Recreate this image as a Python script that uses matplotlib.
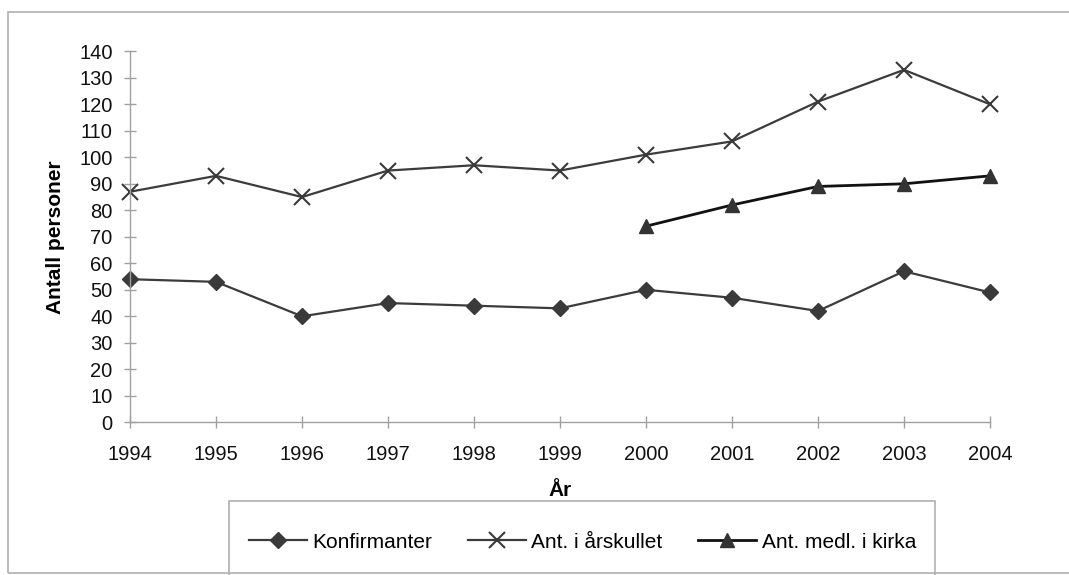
import matplotlib as mpl
import matplotlib.pyplot as plt
from matplotlib.patches import Rectangle

mpl.use('Agg')

aar = [1994, 1995, 1996, 1997, 1998, 1999, 2000, 2001, 2002, 2003, 2004]
konfirmanter = [54, 53, 40, 45, 44, 43, 50, 47, 42, 57, 49]
aarskullet = [87, 93, 85, 95, 97, 95, 101, 106, 121, 133, 120]
kirka_aar = [2000, 2001, 2002, 2003, 2004]
kirka = [74, 82, 89, 90, 93]
yticks = list(range(0, 141, 10))

plt.rcParams['font.family'] = ['Liberation Sans', 'DejaVu Sans']

W, H = 1069, 575
fig = plt.figure(figsize=(W / 100, H / 100), dpi=100)

# outer chart frame (runs off the right edge in the scan)
fig.add_artist(Rectangle((8 / W, 1 - 573 / H), 1.2, (573 - 12) / H,
                         transform=fig.transFigure, fill=False,
                         edgecolor='#b0b0b0', linewidth=1.2))

left, right = 130 / W, 990 / W
top, bottom = 1 - 51.3 / H, 1 - 422.3 / H
ax = fig.add_axes([left, bottom, right - left, top - bottom])

grey = '#3c3c3c'
ax.plot(aar, konfirmanter, color=grey, lw=1.6, marker='D', ms=8,
        mfc='#3a3a3a', mec='#3a3a3a', label='Konfirmanter', clip_on=False)
ax.plot(aar, aarskullet, color=grey, lw=1.6, marker='x', ms=12, mew=1.5,
        mec='#3a3a3a', label='Ant. i årskullet', clip_on=False)
ax.plot(kirka_aar, kirka, color='#111111', lw=2.0, marker='^', ms=10,
        mfc='#333333', mec='#333333', label='Ant. medl. i kirka', clip_on=False)

ax.set_xlim(1994, 2004)
ax.set_ylim(0, 140)
ax.set_xticks(aar)
ax.set_yticks(yticks)
ax.tick_params(direction='inout', length=9, width=1, color='#a0a0a0',
               labelsize=14.5, labelcolor='#111111')
ax.tick_params(axis='y', pad=8)
ax.tick_params(axis='x', pad=12)
for s in ['top', 'right']:
    ax.spines[s].set_visible(False)
for s in ['left', 'bottom']:
    ax.spines[s].set_color('#a0a0a0')
    ax.spines[s].set_linewidth(1)

ax.set_ylabel('Antall personer', fontsize=15, fontweight='bold', labelpad=10)
ax.set_xlabel('År', fontsize=15, fontweight='bold', labelpad=12)

# legend box
fig.add_artist(Rectangle((229 / W, -0.1), (935 - 229) / W, 0.1 + 1 - 501 / H,
                         transform=fig.transFigure, fill=False,
                         edgecolor='#b0b0b0', linewidth=1.2))
handles, labels = ax.get_legend_handles_labels()
fig.legend(handles, labels, loc='center', bbox_to_anchor=(582.5 / W, 1 - 542 / H),
           ncol=3, frameon=False, fontsize=15, handlelength=2.8,
           handletextpad=0.25, columnspacing=1.7)

fig.savefig('out.png', dpi=100)
